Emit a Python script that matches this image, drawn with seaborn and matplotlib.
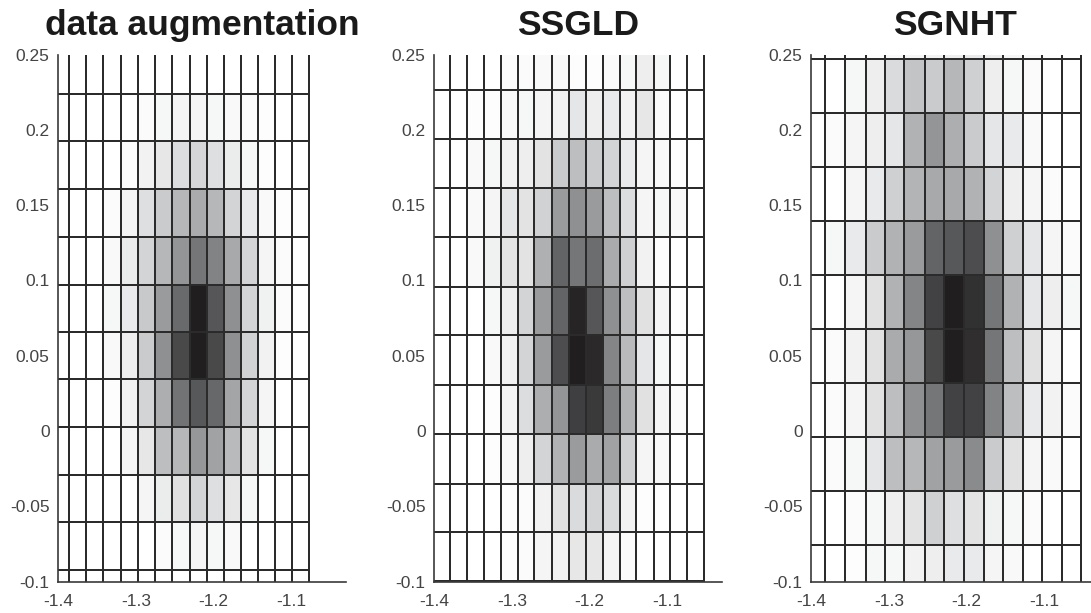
import numpy as np
import pandas as pd
import matplotlib
matplotlib.use("Agg")
import matplotlib.pyplot as plt
import seaborn as sns
from matplotlib.colors import LinearSegmentedColormap

# ---------------- data ----------------
titles = ["data augmentation", "SSGLD", "SGNHT"]

x_ticks = [-1.4, -1.3, -1.2, -1.1]
x_tick_labels = ["-1.4", "-1.3", "-1.2", "-1.1"]
y_ticks = [-0.1, -0.05, 0.0, 0.05, 0.1, 0.15, 0.2, 0.25]
y_tick_labels = ["-0.1", "-0.05", "0", "0.05", "0.1", "0.15", "0.2", "0.25"]

# panel 1: data augmentation
p1_x_edges = [-1.386, -1.364, -1.342, -1.319, -1.297, -1.275, -1.253, -1.231,
              -1.209, -1.187, -1.165, -1.143, -1.121, -1.099, -1.077]
p1_x_pad = [-1.408]
p1_y_edges = [-0.0920, -0.0603, -0.0290, 0.0027, 0.0343, 0.0658, 0.0973,
              0.1288, 0.1607, 0.1923, 0.2239]
p1_y_pad = [-0.1236, 0.2555]
# rows from top to bottom
p1_density = [
    [0, 0, 0, 0, 0.02, 0.04, 0.05, 0.05, 0.04, 0.03, 0.02, 0.01, 0, 0],
    [0, 0, 0, 0.02, 0.06, 0.11, 0.16, 0.19, 0.15, 0.09, 0.04, 0.01, 0, 0],
    [0, 0, 0.02, 0.05, 0.15, 0.24, 0.33, 0.38, 0.33, 0.20, 0.10, 0.03, 0.01, 0],
    [0, 0, 0.03, 0.09, 0.20, 0.33, 0.48, 0.62, 0.56, 0.39, 0.20, 0.05, 0.02, 0],
    [0, 0, 0.04, 0.10, 0.25, 0.45, 0.67, 1.00, 0.76, 0.50, 0.20, 0.07, 0.02, 0],
    [0, 0, 0.03, 0.08, 0.24, 0.50, 0.82, 1.00, 0.82, 0.50, 0.21, 0.06, 0.01, 0],
    [0, 0, 0.01, 0.06, 0.20, 0.37, 0.63, 0.75, 0.68, 0.41, 0.20, 0.05, 0, 0],
    [0, 0, 0, 0.05, 0.11, 0.30, 0.33, 0.47, 0.42, 0.32, 0.13, 0.04, 0, 0],
    [0, 0, 0, 0, 0.05, 0.09, 0.14, 0.20, 0.15, 0.11, 0.04, 0, 0, 0],
    [0, 0, 0, 0, 0, 0.02, 0.04, 0.05, 0.04, 0.03, 0, 0, 0, 0],
]

# panel 2: SSGLD
p2_x_edges = [-1.380, -1.358, -1.336, -1.314, -1.292, -1.271, -1.248, -1.226,
              -1.205, -1.183, -1.161, -1.140, -1.118, -1.097, -1.075, -1.053]
p2_x_pad = [-1.402]
p2_y_edges = [-0.0997, -0.0671, -0.0349, -0.0020, 0.0305, 0.0635, 0.0958,
              0.1286, 0.1616, 0.1940, 0.2267, 0.2593]
p2_y_pad = []
p2_density = [
    [0, 0, 0, 0.02, 0.02, 0.03, 0.03, 0.01, 0.01, 0.02, 0.04, 0.08, 0.04, 0, 0],
    [0, 0.01, 0.01, 0.03, 0.04, 0.05, 0.06, 0.12, 0.08, 0.10, 0.06, 0.11, 0.02, 0, 0],
    [0, 0.03, 0.04, 0.06, 0.08, 0.13, 0.24, 0.30, 0.24, 0.20, 0.10, 0.05, 0.03, 0.01, 0],
    [0, 0.03, 0.05, 0.12, 0.13, 0.21, 0.45, 0.50, 0.45, 0.30, 0.16, 0.05, 0.04, 0.03, 0],
    [0, 0.03, 0.07, 0.13, 0.13, 0.36, 0.70, 0.62, 0.66, 0.38, 0.22, 0.06, 0.01, 0, 0],
    [0, 0, 0.04, 0.08, 0.20, 0.45, 0.70, 0.97, 0.76, 0.50, 0.30, 0.14, 0.05, 0.01, 0],
    [0, 0, 0.03, 0.06, 0.20, 0.45, 0.80, 1.00, 0.95, 0.55, 0.32, 0.12, 0.04, 0.01, 0],
    [0, 0, 0.01, 0.05, 0.16, 0.37, 0.48, 0.86, 0.88, 0.58, 0.35, 0.14, 0.05, 0.02, 0],
    [0, 0, 0.01, 0.03, 0.08, 0.20, 0.35, 0.45, 0.38, 0.42, 0.22, 0.05, 0.03, 0, 0],
    [0, 0, 0, 0.01, 0.02, 0.06, 0.14, 0.17, 0.20, 0.17, 0.06, 0.01, 0, 0, 0],
    [0, 0, 0, 0.01, 0.02, 0.05, 0.06, 0.11, 0.11, 0.05, 0.02, 0, 0, 0, 0],
]

# panel 3: SGNHT
p3_x_edges = [-1.382, -1.356, -1.330, -1.305, -1.280, -1.254, -1.229, -1.204,
              -1.178, -1.153, -1.128, -1.103, -1.078, -1.053]
p3_x_pad = [-1.407]
p3_y_edges = [-0.1114, -0.0756, -0.0397, -0.0038, 0.0321, 0.0677, 0.1036,
              0.1395, 0.1756, 0.2115, 0.2471, 0.2829]
p3_y_pad = []
p3_density = [
    [0, 0, 0.01, 0.03, 0.05, 0.06, 0.08, 0.10, 0.08, 0.05, 0.03, 0.01, 0],
    [0, 0.04, 0.08, 0.17, 0.27, 0.24, 0.33, 0.22, 0.08, 0.04, 0.02, 0, 0],
    [0.02, 0.05, 0.08, 0.12, 0.35, 0.48, 0.37, 0.24, 0.12, 0.10, 0.03, 0, 0],
    [0, 0.05, 0.10, 0.22, 0.34, 0.39, 0.39, 0.35, 0.20, 0.08, 0.05, 0.02, 0],
    [0.04, 0.10, 0.24, 0.35, 0.45, 0.70, 0.75, 0.80, 0.50, 0.22, 0.12, 0.05, 0.02],
    [0, 0.05, 0.14, 0.35, 0.55, 0.85, 1.00, 0.92, 0.62, 0.35, 0.12, 0.08, 0.04],
    [0.02, 0.06, 0.14, 0.38, 0.47, 0.82, 1.00, 0.93, 0.62, 0.30, 0.14, 0.05, 0],
    [0.02, 0.05, 0.14, 0.30, 0.50, 0.62, 0.85, 0.85, 0.56, 0.30, 0.10, 0.06, 0.02],
    [0.02, 0.04, 0.12, 0.30, 0.33, 0.42, 0.45, 0.52, 0.24, 0.14, 0.05, 0.03, 0],
    [0, 0.02, 0.04, 0.08, 0.13, 0.22, 0.15, 0.13, 0.07, 0.04, 0.02, 0, 0],
    [0, 0.01, 0.04, 0.04, 0.06, 0.08, 0.10, 0.10, 0.05, 0.03, 0, 0, 0],
]

panels = [
    (titles[0], p1_x_pad, p1_x_edges, p1_y_pad, p1_y_edges, p1_density),
    (titles[1], p2_x_pad, p2_x_edges, p2_y_pad, p2_y_edges, p2_density),
    (titles[2], p3_x_pad, p3_x_edges, p3_y_pad, p3_y_edges, p3_density),
]

# ---------------- style ----------------
sns.set_theme(style="white")
plt.rcParams["font.family"] = ["Liberation Sans", "DejaVu Sans"]
plt.rcParams["axes.unicode_minus"] = False

cmap = LinearSegmentedColormap.from_list(
    "mgray", ["#ffffff", "#c8c9cb", "#8f9092", "#58595b", "#211e1f"])

fig = plt.figure(figsize=(10.91, 6.13), dpi=100)
lefts = [0.0532, 0.3978, 0.7434]
bottom, width, height = 0.051, 0.264, 0.860
axis_color = "#3a3a3a"
label_color = "#444444"

for (title, xpad, xe, ypad, ye, dens), left in zip(panels, lefts):
    ax = fig.add_axes([left, bottom, width, height])
    xe = np.asarray(xe)
    ye = np.asarray(ye)
    xc = (xe[:-1] + xe[1:]) / 2
    yc = (ye[:-1] + ye[1:]) / 2
    d = np.asarray(dens)[::-1]          # bottom row first
    X, Y = np.meshgrid(xc, yc)
    df = pd.DataFrame({"x": X.ravel(), "y": Y.ravel(), "w": d.ravel()})

    x_bins = np.concatenate([xpad, xe])
    y_lo = [p for p in ypad if p < ye[0]]
    y_hi = [p for p in ypad if p > ye[-1]]
    y_bins = np.concatenate([y_lo, ye, y_hi])

    sns.histplot(data=df, x="x", y="y", weights="w", bins=[x_bins, y_bins],
                 cmap=cmap, vmin=0, vmax=1, thresh=None, cbar=False,
                 edgecolor="#2b2b2b", linewidth=1.4, ax=ax)

    ax.set_xlim(-1.4, -1.03)
    ax.set_ylim(-0.1, 0.25)
    ax.set_xlabel("")
    ax.set_ylabel("")
    ax.set_xticks(x_ticks)
    ax.set_xticklabels(x_tick_labels)
    ax.set_yticks(y_ticks)
    ax.set_yticklabels(y_tick_labels)
    ax.tick_params(axis="both", direction="in", length=4, width=1.0,
                   color=axis_color, labelcolor=label_color, labelsize=12.5)
    ax.tick_params(axis="x", pad=8.5)
    ax.tick_params(axis="y", pad=6)
    for s in ["top", "right"]:
        ax.spines[s].set_visible(False)
    for s in ["left", "bottom"]:
        ax.spines[s].set_color(axis_color)
        ax.spines[s].set_linewidth(1.2)
        ax.spines[s].set_zorder(5)
    ax.set_title(title, fontsize=25.5, fontweight="bold", color="#1a1a1a", pad=14)

fig.savefig("out.png", dpi=100)
